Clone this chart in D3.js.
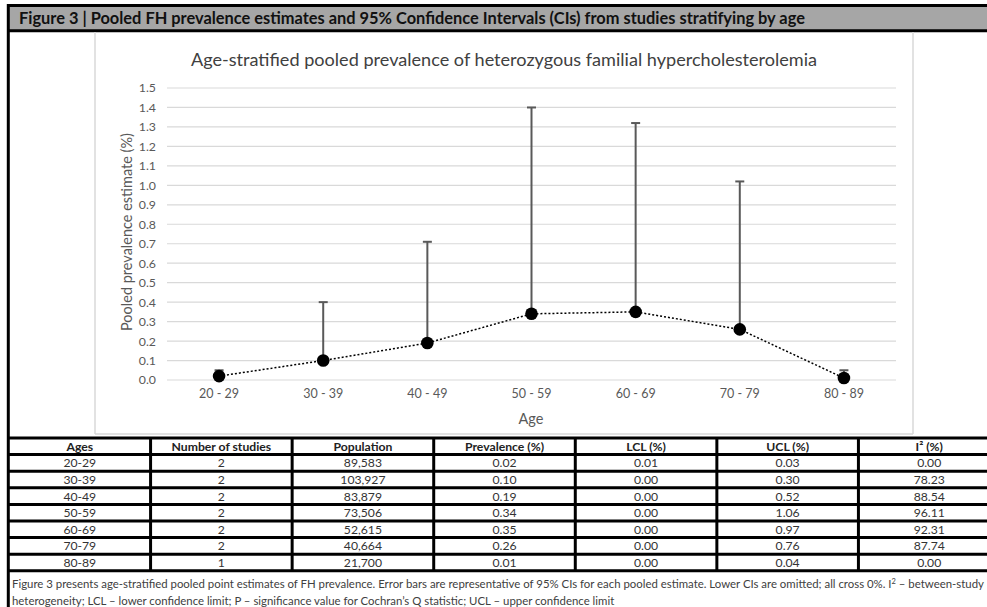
<!DOCTYPE html>
<html>
<head>
<meta charset="utf-8">
<script src="https://cdn.jsdelivr.net/npm/d3@7"></script>
<style>
  body { margin: 0; background: #fff; }
  svg { display: block; font-family: Lato, "Open Sans", sans-serif; }
</style>
</head>
<body>
<svg id="fig"></svg>
<script>
var ages = ['20-29', '30-39', '40-49', '50-59', '60-69', '70-79', '80-89']
var studies = [2, 2, 2, 2, 2, 2, 1]
var population = [89583, 103927, 83879, 73506, 52615, 40664, 21700]
var prevalence = [0.02, 0.10, 0.19, 0.34, 0.35, 0.26, 0.01]
var lcl = [0.01, 0.00, 0.00, 0.00, 0.00, 0.00, 0.00]
var ucl = [0.03, 0.30, 0.52, 1.06, 0.97, 0.76, 0.04]
var i2 = [0.00, 78.23, 88.54, 96.11, 92.31, 87.74, 0.00]
var yTicks = d3.range(0, 16).map(function(d) { return d / 10 })
var headers = ['Ages', 'Number of studies', 'Population', 'Prevalence (%)', 'LCL (%)', 'UCL (%)', 'I² (%)']

var width = 987, height = 607
var svg = d3.select('#fig').attr('width', width).attr('height', height)

// header bar
svg.append('rect').attr('x', 8).attr('y', 6).attr('width', width).attr('height', 25).attr('fill', '#a6a6a6')
svg.append('line').attr('x1', 7).attr('x2', width).attr('y1', 5.5).attr('y2', 5.5).attr('stroke', '#000').attr('stroke-width', 3)
svg.append('line').attr('x1', 7).attr('x2', width).attr('y1', 30.8).attr('y2', 30.8).attr('stroke', '#000').attr('stroke-width', 3)
svg.append('text').attr('x', 19).attr('y', 24)
    .attr('font-size', 16.4).attr('font-weight', 'bold').attr('fill', '#111')
    .text('Figure 3 | Pooled FH prevalence estimates and 95% Confidence Intervals (CIs) from studies stratifying by age')

// chart box
var box = {left: 95, right: 913, top: 32, bottom: 434}
svg.append('line').attr('x1', box.left).attr('x2', box.left).attr('y1', box.top).attr('y2', box.bottom).attr('stroke', '#d9d9d9').attr('stroke-width', 1.5)
svg.append('line').attr('x1', box.right).attr('x2', box.right).attr('y1', box.top).attr('y2', box.bottom).attr('stroke', '#d9d9d9').attr('stroke-width', 1.5)
svg.append('line').attr('x1', box.left).attr('x2', box.right).attr('y1', box.bottom).attr('y2', box.bottom).attr('stroke', '#d9d9d9').attr('stroke-width', 1.5)

svg.append('text').attr('x', 504).attr('y', 66).attr('text-anchor', 'middle')
    .attr('font-size', 18.1).attr('fill', '#404040')
    .text('Age-stratified pooled prevalence of heterozygous familial hypercholesterolemia')

var xScale = d3.scaleBand().domain(ages).range([167, 896])
var yScale = d3.scaleLinear().domain([0, 1.5]).range([380, 88])
var cx = function(d, i) { return xScale(ages[i]) + xScale.bandwidth() / 2 }

// gridlines
svg.append('g').selectAll('line').data(yTicks).enter().append('line')
    .attr('x1', 167).attr('x2', 896)
    .attr('y1', function(d) { return yScale(d) }).attr('y2', function(d) { return yScale(d) })
    .attr('stroke', '#d9d9d9').attr('stroke-width', 1.2)

var yAxis = d3.axisLeft(yScale).tickValues(yTicks).tickSize(0).tickPadding(0).tickFormat(d3.format('.1f'))
var gy = svg.append('g').attr('transform', 'translate(156,0)').call(yAxis)
gy.select('.domain').remove()
gy.selectAll('text').attr('font-size', 12.3).attr('fill', '#595959').attr('font-family', 'Lato, sans-serif')

var xAxis = d3.axisBottom(xScale).tickSize(0).tickPadding(0).tickFormat(function(d) { return d.replace('-', ' - ') })
var gx = svg.append('g').attr('transform', 'translate(0,389)').call(xAxis)
gx.select('.domain').remove()
gx.selectAll('text').attr('font-size', 12.5).attr('fill', '#595959').attr('font-family', 'Lato, sans-serif')

svg.append('text').attr('x', 531).attr('y', 424).attr('text-anchor', 'middle')
    .attr('font-size', 14.5).attr('fill', '#595959').text('Age')
svg.append('text').attr('transform', 'translate(132,232) rotate(-90)').attr('text-anchor', 'middle')
    .attr('font-size', 14.5).attr('fill', '#595959').text('Pooled prevalence estimate (%)')

// error bars (upper only)
var eb = svg.append('g')
eb.selectAll('line.bar').data(prevalence).enter().append('line').attr('class', 'bar')
    .attr('x1', cx).attr('x2', cx)
    .attr('y1', function(d) { return yScale(d) })
    .attr('y2', function(d, i) { return yScale(d + ucl[i]) })
    .attr('stroke', '#595959').attr('stroke-width', 2)
eb.selectAll('line.cap').data(prevalence).enter().append('line').attr('class', 'cap')
    .attr('x1', function(d, i) { return cx(d, i) - 4.5 }).attr('x2', function(d, i) { return cx(d, i) + 4.5 })
    .attr('y1', function(d, i) { return yScale(d + ucl[i]) })
    .attr('y2', function(d, i) { return yScale(d + ucl[i]) })
    .attr('stroke', '#595959').attr('stroke-width', 2)

var line = d3.line().x(cx).y(function(d) { return yScale(d) })
svg.append('path').datum(prevalence).attr('d', line)
    .attr('fill', 'none').attr('stroke', '#000').attr('stroke-width', 1.5).attr('stroke-dasharray', '2,2')
svg.selectAll('circle').data(prevalence).enter().append('circle')
    .attr('cx', cx).attr('cy', function(d) { return yScale(d) }).attr('r', 6.3).attr('fill', '#000')

// table
var colX = d3.scaleLinear().domain([0, 7]).range([9, 1000])
var rowTop = 438, rowH = 16.6
var rows = ages.map(function(a, i) {
    return [a, studies[i], d3.format(',')(population[i]), prevalence[i].toFixed(2), lcl[i].toFixed(2), ucl[i].toFixed(2), i2[i].toFixed(2)]
})
var tbl = svg.append('g')
tbl.selectAll('text.h').data(headers).enter().append('text').attr('class', 'h')
    .attr('x', function(d, i) { return (colX(i) + colX(i + 1)) / 2 })
    .attr('y', rowTop + rowH / 2 + 4.5).attr('text-anchor', 'middle')
    .attr('font-size', 12.2).attr('font-weight', 'bold').attr('fill', '#222')
    .text(function(d) { return d })
rows.forEach(function(r, ri) {
    tbl.selectAll('text.r' + ri).data(r).enter().append('text').attr('class', 'r' + ri)
        .attr('x', function(d, i) { return (colX(i) + colX(i + 1)) / 2 })
        .attr('y', rowTop + rowH * (ri + 1) + rowH / 2 + 4.5).attr('text-anchor', 'middle')
        .attr('font-size', 12.2).attr('fill', '#333')
        .text(function(d) { return d })
})
var hLines = d3.range(0, rows.length + 2)
tbl.selectAll('line.hl').data(hLines).enter().append('line').attr('class', 'hl')
    .attr('x1', 7).attr('x2', width)
    .attr('y1', function(d) { return rowTop + d * rowH }).attr('y2', function(d) { return rowTop + d * rowH })
    .attr('stroke', '#000').attr('stroke-width', 3)
tbl.selectAll('line.vl').data(d3.range(1, 7)).enter().append('line').attr('class', 'vl')
    .attr('x1', function(d) { return colX(d) }).attr('x2', function(d) { return colX(d) })
    .attr('y1', rowTop).attr('y2', rowTop + (rows.length + 1) * rowH)
    .attr('stroke', '#000').attr('stroke-width', 3)

// left border
svg.append('line').attr('x1', 8.3).attr('x2', 8.3).attr('y1', 4).attr('y2', height).attr('stroke', '#000').attr('stroke-width', 3)

// footnote
var note = svg.append('text').attr('x', 12).attr('y', 588).attr('font-size', 11.4).attr('fill', '#404040')
note.append('tspan').text('Figure 3 presents age-stratified pooled point estimates of FH prevalence. Error bars are representative of 95% CIs for each pooled estimate. Lower CIs are omitted; all cross 0%. I')
note.append('tspan').attr('dy', -4).attr('font-size', 7.5).text('2')
note.append('tspan').attr('dy', 4).text(' – between-study')
svg.append('text').attr('x', 12).attr('y', 605).attr('font-size', 11.4).attr('fill', '#404040')
    .text('heterogeneity; LCL – lower confidence limit; P – significance value for Cochran’s Q statistic; UCL – upper confidence limit')
</script>
</body>
</html>
